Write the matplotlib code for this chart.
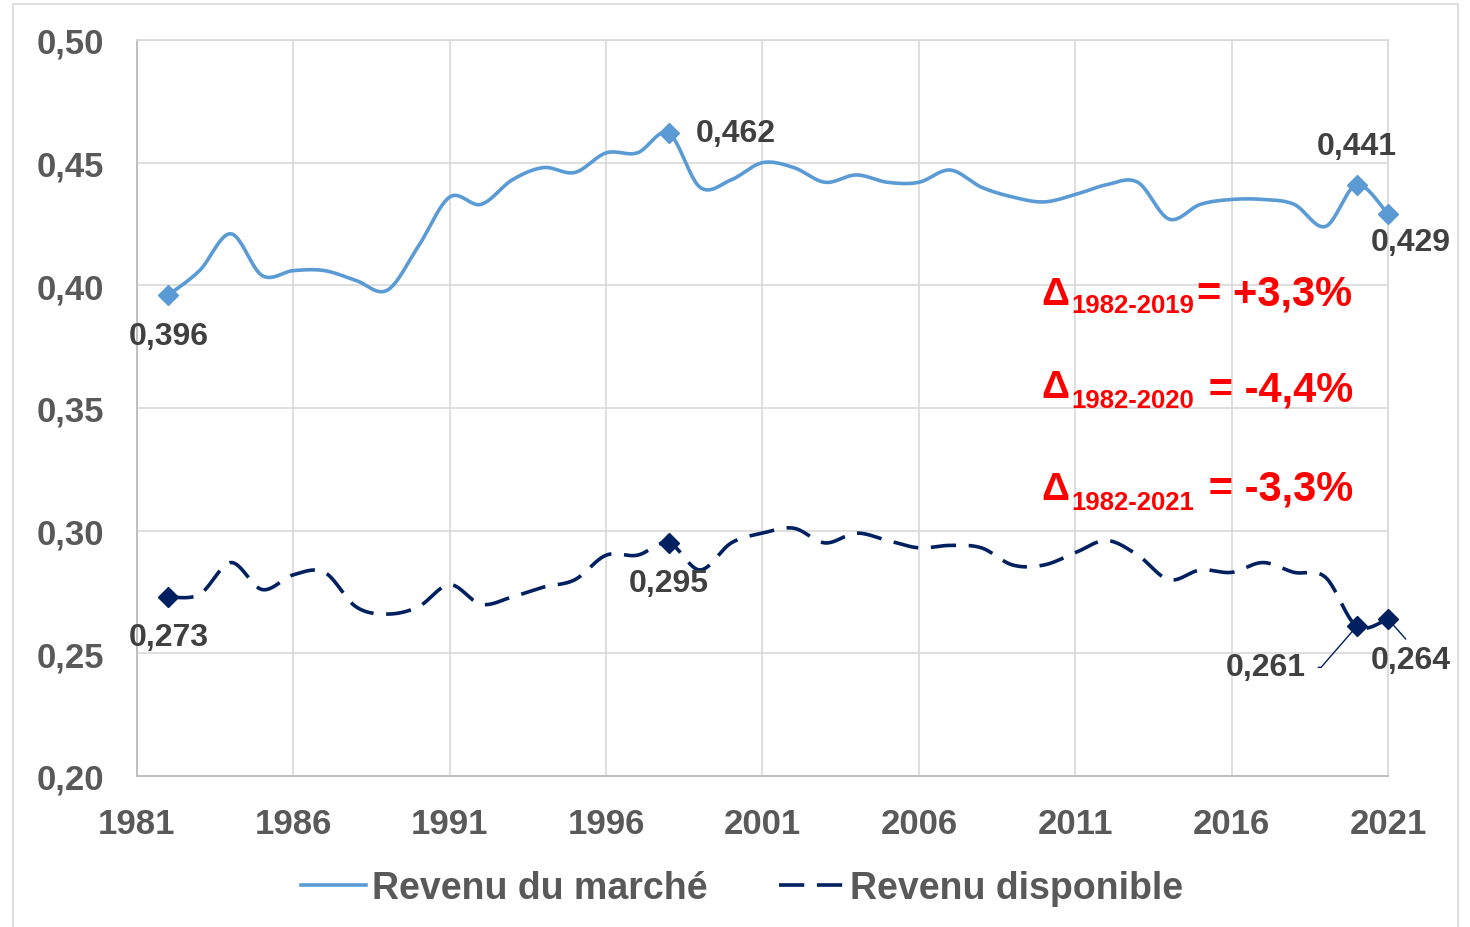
import numpy as np
import matplotlib
matplotlib.use("Agg")
import matplotlib.pyplot as plt
from matplotlib.ticker import FuncFormatter, MultipleLocator, FixedLocator
from matplotlib.patches import Rectangle

plt.rcParams['font.family'] = ['Liberation Sans', 'DejaVu Sans']
plt.rcParams['font.weight'] = 'bold'

years = list(range(1982, 2022))
marche = [0.396, 0.406, 0.421, 0.404, 0.406, 0.406, 0.402, 0.398, 0.416, 0.436,
          0.433, 0.443, 0.448, 0.446, 0.454, 0.454, 0.462, 0.440, 0.443, 0.450,
          0.448, 0.442, 0.445, 0.442, 0.442, 0.447, 0.440, 0.436, 0.434, 0.437,
          0.441, 0.442, 0.427, 0.433, 0.435, 0.435, 0.433, 0.424, 0.441, 0.429]
disponible = [0.273, 0.274, 0.287, 0.276, 0.282, 0.283, 0.269, 0.266, 0.269, 0.278,
              0.270, 0.273, 0.277, 0.280, 0.290, 0.290, 0.295, 0.284, 0.295, 0.299,
              0.301, 0.295, 0.299, 0.296, 0.293, 0.294, 0.293, 0.286, 0.286, 0.291,
              0.296, 0.290, 0.280, 0.284, 0.283, 0.287, 0.283, 0.281, 0.261, 0.264]
xticks = list(range(1981, 2022, 5))
# years that carry a marker and a value label
labelled = [1982, 1998, 2020, 2021]
deltas = [("1982-2019", "= +3,3%"), ("1982-2020", " = -4,4%"), ("1982-2021", " = -3,3%")]

BLUE = "#5B9BD5"
NAVY = "#002060"
GREY = "#595959"
LABEL = "#404040"
W, H = 1470, 928


def smooth(x, y, n=24):
    # Excel-like smoothed line (cubic Bezier through each point)
    x = np.asarray(x, float)
    y = np.asarray(y, float)
    px = np.concatenate([[x[0]], x, [x[-1]]])
    py = np.concatenate([[y[0]], y, [y[-1]]])
    xs, ys = [], []
    t = np.linspace(0, 1, n, endpoint=False)
    for i in range(len(x) - 1):
        p0 = np.array([px[i], py[i]])
        p1 = np.array([x[i], y[i]])
        p2 = np.array([x[i + 1], y[i + 1]])
        p3 = np.array([px[i + 3], py[i + 3]])
        c1 = p1 + (p2 - p0) / 6
        c2 = p2 - (p3 - p1) / 6
        b = ((1 - t) ** 3)[:, None] * p1 + (3 * (1 - t) ** 2 * t)[:, None] * c1 \
            + (3 * (1 - t) * t ** 2)[:, None] * c2 + (t ** 3)[:, None] * p2
        xs.extend(b[:, 0])
        ys.extend(b[:, 1])
    xs.append(x[-1])
    ys.append(y[-1])
    return xs, ys


fig = plt.figure(figsize=(W / 100, H / 100), dpi=100)
fig.patches.append(Rectangle((13 / W, -0.01), (1458 - 13) / W, 1 - 5 / H + 0.01,
                             transform=fig.transFigure, fill=False,
                             edgecolor="#D9D9D9", lw=1.2))
ax = fig.add_axes([137 / W, 1 - 777 / H, (1388 - 137) / W, (777 - 41) / H])

sx, sy = smooth(years, marche)
ax.plot(sx, sy, color=BLUE, lw=2.6, label="Revenu du marché", clip_on=False)
sx, sy = smooth(years, disponible)
ax.plot(sx, sy, color=NAVY, lw=2.6, dashes=(7, 3.5), label="Revenu disponible", clip_on=False)

idx = [years.index(y) for y in labelled]
ax.plot([years[i] for i in idx], [marche[i] for i in idx], "D", color=BLUE, ms=10,
        ls="none", clip_on=False, zorder=4)
ax.plot([years[i] for i in idx], [disponible[i] for i in idx], "D", color=NAVY, ms=10,
        ls="none", clip_on=False, zorder=4)

fmt = lambda v: f"{v:.3f}".replace(".", ",")
lab = dict(color=LABEL, fontsize=23, fontweight="bold", textcoords="offset pixels")

m = [marche[i] for i in idx]
d = [disponible[i] for i in idx]
ax.annotate(fmt(m[0]), (1982, m[0]), xytext=(0, -41), ha="center", va="center", **lab)
ax.annotate(fmt(m[1]), (1998, m[1]), xytext=(27, 0), ha="left", va="center", **lab)
ax.annotate(fmt(m[2]), (2020, m[2]), xytext=(0, 39), ha="center", va="center", **lab)
ax.annotate(fmt(m[3]), (2021, m[3]), xytext=(23, -28), ha="center", va="center", **lab)
ax.annotate(fmt(d[0]), (1982, d[0]), xytext=(0, -40), ha="center", va="center", **lab)
ax.annotate(fmt(d[1]), (1998, d[1]), xytext=(0, -40), ha="center", va="center", **lab)
ax.annotate(fmt(d[2]), (2020, d[2]), xytext=(-91, -41), ha="center", va="center",
            arrowprops=dict(arrowstyle="-", color=NAVY, lw=1, relpos=(1, 0.5),
                            connectionstyle="angle,angleA=0,angleB=49,rad=0",
                            shrinkA=7, shrinkB=5), **lab)
ax.annotate(fmt(d[3]), (2021, d[3]), xytext=(23, -41), ha="center", va="center",
            arrowprops=dict(arrowstyle="-", color=NAVY, lw=1, relpos=(0.5, 1),
                            shrinkA=3, shrinkB=5), **lab)

ax.set_xlim(1981, 2021)
ax.set_ylim(0.20, 0.50)
ax.xaxis.set_major_locator(FixedLocator(xticks))
ax.yaxis.set_major_locator(MultipleLocator(0.05))
ax.yaxis.set_major_formatter(FuncFormatter(lambda v, p: f"{v:.2f}".replace(".", ",")))
ax.tick_params(length=0, labelsize=25, labelcolor=GREY)
ax.tick_params(axis="y", pad=24)
ax.tick_params(axis="x", pad=22)
ax.grid(True, color="#D9D9D9", lw=1.2)
ax.set_axisbelow(True)
for s in ["top", "right"]:
    ax.spines[s].set_color("#D9D9D9")
    ax.spines[s].set_linewidth(1.2)
for s in ["left", "bottom"]:
    ax.spines[s].set_color("#BFBFBF")
    ax.spines[s].set_linewidth(1.4)

# red delta annotations
rows = [(305, 313, 306), (398, 408, 401), (500, 510, 501)]
for (sub, rest), (yb, ys, yr) in zip(deltas, rows):
    fig.text(1041 / W, 1 - yb / H, "Δ", color="red", fontsize=28, fontweight="bold", va="baseline")
    fig.text(1071 / W, 1 - ys / H, sub, color="red", fontsize=18.5, fontweight="bold", va="baseline")
    fig.text(1197 / W, 1 - yr / H, rest, color="red", fontsize=30, fontweight="bold", va="baseline")

fig.legend(loc="center", bbox_to_anchor=(742 / W, 1 - 889 / H), ncol=2, frameon=False,
           fontsize=27, labelcolor=GREY, handlelength=1.75, handletextpad=0.15,
           columnspacing=1.9)

fig.savefig("out.png", dpi=100, facecolor="white")
